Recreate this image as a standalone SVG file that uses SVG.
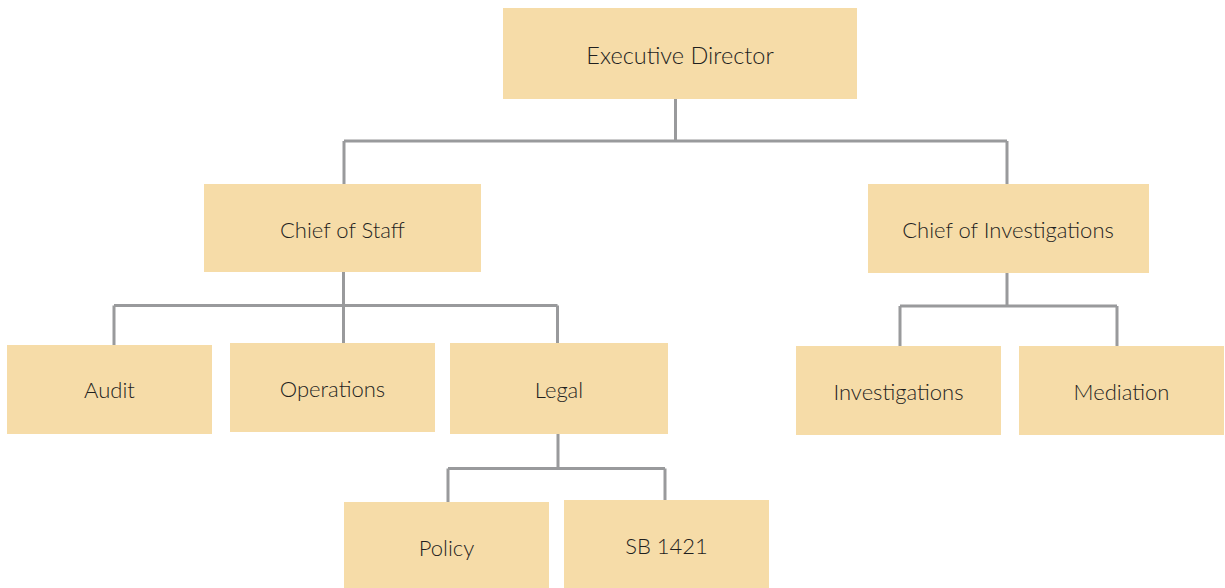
<svg xmlns="http://www.w3.org/2000/svg" width="1225" height="588" viewBox="0 0 1225 588">
<style>
.box{fill:#F6DCA8}
.lbl{font-family:Lato,"Open Sans","Liberation Sans",sans-serif;font-weight:300;font-size:22px;fill:#1f1f1f;text-anchor:middle}
.big{font-size:23.5px}
.conn{fill:none;stroke:#999a9c;stroke-width:3}
</style>
<rect width="1225" height="588" fill="#ffffff"/>
<g id="connectors" class="conn">
<path d="M675.5 99V141M344 141H1007M344 141V184M1007 141V184"/>
<path d="M343.5 272V343M114 305.5H557.5M114 305.5V345M557.5 305.5V343"/>
<path d="M1007 273V306M900 306H1117M900 306V346M1117 306V346"/>
<path d="M558 434V468.5M448 468.5H665M448 468.5V502M665 468.5V500"/>
</g>
<g id="executive-director"><rect class="box" x="503" y="8" width="354" height="91"/><text class="lbl big" x="680" y="64">Executive Director</text></g>
<g id="chief-of-staff"><rect class="box" x="204" y="184" width="277" height="88"/><text class="lbl" x="342.5" y="238">Chief of Staff</text></g>
<g id="chief-of-investigations"><rect class="box" x="868" y="184" width="281" height="89"/><text class="lbl" x="1008" y="238">Chief of Investigations</text></g>
<g id="audit"><rect class="box" x="7" y="345" width="205" height="89"/><text class="lbl" x="109.5" y="398">Audit</text></g>
<g id="operations"><rect class="box" x="230" y="343" width="205" height="89"/><text class="lbl" x="332.5" y="397">Operations</text></g>
<g id="legal"><rect class="box" x="450" y="343" width="218" height="91"/><text class="lbl" x="559" y="398">Legal</text></g>
<g id="investigations"><rect class="box" x="796" y="346" width="205" height="89"/><text class="lbl" x="898.5" y="400">Investigations</text></g>
<g id="mediation"><rect class="box" x="1019" y="346" width="205" height="89"/><text class="lbl" x="1121.5" y="400">Mediation</text></g>
<g id="policy"><rect class="box" x="344" y="502" width="205" height="86"/><text class="lbl" x="446.5" y="556">Policy</text></g>
<g id="sb-1421"><rect class="box" x="564" y="500" width="205" height="88"/><text class="lbl" x="666.5" y="554">SB 1421</text></g>
</svg>
